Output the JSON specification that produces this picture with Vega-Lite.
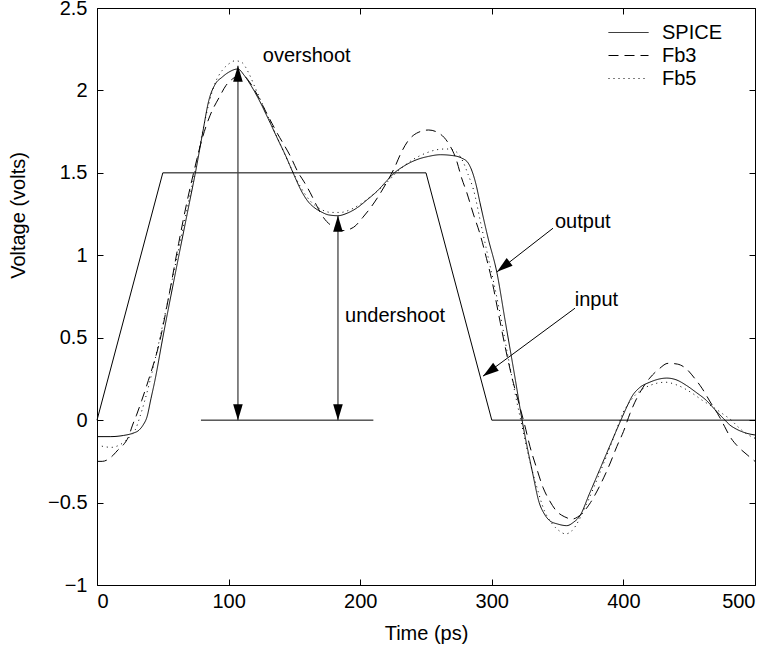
{
  "$schema": "https://vega.github.io/schema/vega-lite/v6.json",
  "width": 658,
  "height": 577,
  "autosize": "none",
  "padding": {"left": 97, "top": 8, "right": 18, "bottom": 67},
  "background": "white",
  "config": {
    "view": {"stroke": "black", "strokeWidth": 1},
    "font": "Liberation Sans",
    "axis": {"grid": false, "domain": false, "tickColor": "black", "labelColor": "black", "labelFontSize": 20, "titleFontSize": 20, "titleFontWeight": "normal", "titleColor": "black", "labelFont": "Liberation Sans", "titleFont": "Liberation Sans"},
    "legend": {"labelFont": "Liberation Sans", "labelFontSize": 20, "labelColor": "black"}
  },
  "datasets": {
    "curves": [
      {"t":0,"v":-0.10,"s":"SPICE"},{"t":10,"v":-0.10,"s":"SPICE"},{"t":20,"v":-0.093,"s":"SPICE"},{"t":27,"v":-0.08,"s":"SPICE"},{"t":32,"v":-0.06,"s":"SPICE"},{"t":35,"v":-0.03,"s":"SPICE"},{"t":38,"v":0.02,"s":"SPICE"},{"t":41,"v":0.13,"s":"SPICE"},{"t":44,"v":0.24,"s":"SPICE"},{"t":50,"v":0.50,"s":"SPICE"},{"t":60,"v":0.91,"s":"SPICE"},{"t":70,"v":1.31,"s":"SPICE"},{"t":75,"v":1.51,"s":"SPICE"},{"t":80,"v":1.73,"s":"SPICE"},{"t":85,"v":1.94,"s":"SPICE"},{"t":90,"v":2.04,"s":"SPICE"},{"t":95,"v":2.08,"s":"SPICE"},{"t":100,"v":2.11,"s":"SPICE"},{"t":107,"v":2.13,"s":"SPICE"},{"t":112,"v":2.09,"s":"SPICE"},{"t":117,"v":2.03,"s":"SPICE"},{"t":122,"v":1.96,"s":"SPICE"},{"t":130,"v":1.83,"s":"SPICE"},{"t":137,"v":1.71,"s":"SPICE"},{"t":143,"v":1.61,"s":"SPICE"},{"t":149,"v":1.50,"s":"SPICE"},{"t":156,"v":1.38,"s":"SPICE"},{"t":160,"v":1.33,"s":"SPICE"},{"t":165,"v":1.29,"s":"SPICE"},{"t":170,"v":1.265,"s":"SPICE"},{"t":176,"v":1.245,"s":"SPICE"},{"t":183,"v":1.24,"s":"SPICE"},{"t":190,"v":1.255,"s":"SPICE"},{"t":198,"v":1.29,"s":"SPICE"},{"t":205,"v":1.335,"s":"SPICE"},{"t":213,"v":1.39,"s":"SPICE"},{"t":220,"v":1.45,"s":"SPICE"},{"t":226,"v":1.50,"s":"SPICE"},{"t":233,"v":1.54,"s":"SPICE"},{"t":243,"v":1.58,"s":"SPICE"},{"t":252,"v":1.60,"s":"SPICE"},{"t":261,"v":1.61,"s":"SPICE"},{"t":270,"v":1.605,"s":"SPICE"},{"t":277,"v":1.59,"s":"SPICE"},{"t":282,"v":1.56,"s":"SPICE"},{"t":285,"v":1.51,"s":"SPICE"},{"t":288,"v":1.43,"s":"SPICE"},{"t":291,"v":1.32,"s":"SPICE"},{"t":297,"v":1.11,"s":"SPICE"},{"t":304,"v":0.89,"s":"SPICE"},{"t":310,"v":0.61,"s":"SPICE"},{"t":318,"v":0.24,"s":"SPICE"},{"t":323,"v":0.0,"s":"SPICE"},{"t":331,"v":-0.32,"s":"SPICE"},{"t":336,"v":-0.50,"s":"SPICE"},{"t":340,"v":-0.57,"s":"SPICE"},{"t":344,"v":-0.61,"s":"SPICE"},{"t":350,"v":-0.63,"s":"SPICE"},{"t":357,"v":-0.64,"s":"SPICE"},{"t":362,"v":-0.62,"s":"SPICE"},{"t":367,"v":-0.58,"s":"SPICE"},{"t":374,"v":-0.45,"s":"SPICE"},{"t":382,"v":-0.30,"s":"SPICE"},{"t":390,"v":-0.15,"s":"SPICE"},{"t":397,"v":-0.02,"s":"SPICE"},{"t":402,"v":0.07,"s":"SPICE"},{"t":407,"v":0.15,"s":"SPICE"},{"t":412,"v":0.195,"s":"SPICE"},{"t":420,"v":0.23,"s":"SPICE"},{"t":433,"v":0.255,"s":"SPICE"},{"t":440,"v":0.245,"s":"SPICE"},{"t":448,"v":0.21,"s":"SPICE"},{"t":455,"v":0.17,"s":"SPICE"},{"t":463,"v":0.12,"s":"SPICE"},{"t":470,"v":0.06,"s":"SPICE"},{"t":476,"v":0.01,"s":"SPICE"},{"t":481,"v":-0.03,"s":"SPICE"},{"t":486,"v":-0.055,"s":"SPICE"},{"t":493,"v":-0.078,"s":"SPICE"},{"t":500,"v":-0.09,"s":"SPICE"},
      {"t":0,"v":-0.25,"s":"Fb3"},{"t":4,"v":-0.25,"s":"Fb3"},{"t":8,"v":-0.24,"s":"Fb3"},{"t":12,"v":-0.215,"s":"Fb3"},{"t":16,"v":-0.18,"s":"Fb3"},{"t":20,"v":-0.15,"s":"Fb3"},{"t":24,"v":-0.10,"s":"Fb3"},{"t":27,"v":-0.03,"s":"Fb3"},{"t":30,"v":0.03,"s":"Fb3"},{"t":34,"v":0.12,"s":"Fb3"},{"t":39,"v":0.24,"s":"Fb3"},{"t":48,"v":0.49,"s":"Fb3"},{"t":55,"v":0.77,"s":"Fb3"},{"t":62,"v":1.07,"s":"Fb3"},{"t":68,"v":1.31,"s":"Fb3"},{"t":74,"v":1.52,"s":"Fb3"},{"t":80,"v":1.71,"s":"Fb3"},{"t":86,"v":1.85,"s":"Fb3"},{"t":93,"v":1.96,"s":"Fb3"},{"t":98,"v":2.03,"s":"Fb3"},{"t":103,"v":2.07,"s":"Fb3"},{"t":108,"v":2.09,"s":"Fb3"},{"t":112,"v":2.085,"s":"Fb3"},{"t":116,"v":2.05,"s":"Fb3"},{"t":122,"v":1.97,"s":"Fb3"},{"t":129,"v":1.86,"s":"Fb3"},{"t":137,"v":1.74,"s":"Fb3"},{"t":147,"v":1.60,"s":"Fb3"},{"t":153,"v":1.50,"s":"Fb3"},{"t":157,"v":1.45,"s":"Fb3"},{"t":162,"v":1.38,"s":"Fb3"},{"t":167,"v":1.30,"s":"Fb3"},{"t":172,"v":1.23,"s":"Fb3"},{"t":180,"v":1.17,"s":"Fb3"},{"t":187,"v":1.15,"s":"Fb3"},{"t":195,"v":1.17,"s":"Fb3"},{"t":202,"v":1.23,"s":"Fb3"},{"t":208,"v":1.29,"s":"Fb3"},{"t":214,"v":1.36,"s":"Fb3"},{"t":220,"v":1.44,"s":"Fb3"},{"t":226,"v":1.53,"s":"Fb3"},{"t":231,"v":1.62,"s":"Fb3"},{"t":236,"v":1.69,"s":"Fb3"},{"t":244,"v":1.745,"s":"Fb3"},{"t":252,"v":1.76,"s":"Fb3"},{"t":260,"v":1.74,"s":"Fb3"},{"t":267,"v":1.68,"s":"Fb3"},{"t":273,"v":1.58,"s":"Fb3"},{"t":277,"v":1.47,"s":"Fb3"},{"t":281,"v":1.38,"s":"Fb3"},{"t":286,"v":1.25,"s":"Fb3"},{"t":291,"v":1.13,"s":"Fb3"},{"t":296,"v":0.98,"s":"Fb3"},{"t":300,"v":0.85,"s":"Fb3"},{"t":305,"v":0.65,"s":"Fb3"},{"t":310,"v":0.45,"s":"Fb3"},{"t":315,"v":0.27,"s":"Fb3"},{"t":321,"v":0.09,"s":"Fb3"},{"t":325,"v":-0.03,"s":"Fb3"},{"t":329,"v":-0.16,"s":"Fb3"},{"t":334,"v":-0.29,"s":"Fb3"},{"t":339,"v":-0.41,"s":"Fb3"},{"t":344,"v":-0.49,"s":"Fb3"},{"t":349,"v":-0.55,"s":"Fb3"},{"t":355,"v":-0.585,"s":"Fb3"},{"t":361,"v":-0.60,"s":"Fb3"},{"t":368,"v":-0.57,"s":"Fb3"},{"t":375,"v":-0.50,"s":"Fb3"},{"t":380,"v":-0.43,"s":"Fb3"},{"t":385,"v":-0.35,"s":"Fb3"},{"t":390,"v":-0.26,"s":"Fb3"},{"t":395,"v":-0.16,"s":"Fb3"},{"t":400,"v":-0.07,"s":"Fb3"},{"t":405,"v":0.04,"s":"Fb3"},{"t":410,"v":0.13,"s":"Fb3"},{"t":415,"v":0.20,"s":"Fb3"},{"t":420,"v":0.255,"s":"Fb3"},{"t":427,"v":0.31,"s":"Fb3"},{"t":434,"v":0.345,"s":"Fb3"},{"t":441,"v":0.34,"s":"Fb3"},{"t":448,"v":0.31,"s":"Fb3"},{"t":454,"v":0.255,"s":"Fb3"},{"t":460,"v":0.19,"s":"Fb3"},{"t":466,"v":0.11,"s":"Fb3"},{"t":473,"v":0.02,"s":"Fb3"},{"t":477,"v":-0.04,"s":"Fb3"},{"t":481,"v":-0.10,"s":"Fb3"},{"t":487,"v":-0.16,"s":"Fb3"},{"t":494,"v":-0.21,"s":"Fb3"},{"t":500,"v":-0.25,"s":"Fb3"},
      {"t":0,"v":-0.15,"s":"Fb5"},{"t":5,"v":-0.16,"s":"Fb5"},{"t":11,"v":-0.165,"s":"Fb5"},{"t":16,"v":-0.155,"s":"Fb5"},{"t":21,"v":-0.13,"s":"Fb5"},{"t":25,"v":-0.10,"s":"Fb5"},{"t":29,"v":-0.06,"s":"Fb5"},{"t":33,"v":0.03,"s":"Fb5"},{"t":36,"v":0.11,"s":"Fb5"},{"t":40,"v":0.23,"s":"Fb5"},{"t":45,"v":0.40,"s":"Fb5"},{"t":50,"v":0.58,"s":"Fb5"},{"t":60,"v":0.96,"s":"Fb5"},{"t":70,"v":1.34,"s":"Fb5"},{"t":75,"v":1.53,"s":"Fb5"},{"t":80,"v":1.74,"s":"Fb5"},{"t":85,"v":1.92,"s":"Fb5"},{"t":90,"v":2.05,"s":"Fb5"},{"t":95,"v":2.12,"s":"Fb5"},{"t":100,"v":2.16,"s":"Fb5"},{"t":105,"v":2.18,"s":"Fb5"},{"t":110,"v":2.17,"s":"Fb5"},{"t":115,"v":2.11,"s":"Fb5"},{"t":120,"v":2.02,"s":"Fb5"},{"t":130,"v":1.84,"s":"Fb5"},{"t":140,"v":1.66,"s":"Fb5"},{"t":148,"v":1.52,"s":"Fb5"},{"t":155,"v":1.41,"s":"Fb5"},{"t":162,"v":1.33,"s":"Fb5"},{"t":170,"v":1.28,"s":"Fb5"},{"t":178,"v":1.26,"s":"Fb5"},{"t":185,"v":1.26,"s":"Fb5"},{"t":192,"v":1.275,"s":"Fb5"},{"t":200,"v":1.31,"s":"Fb5"},{"t":210,"v":1.37,"s":"Fb5"},{"t":220,"v":1.44,"s":"Fb5"},{"t":230,"v":1.52,"s":"Fb5"},{"t":240,"v":1.58,"s":"Fb5"},{"t":250,"v":1.62,"s":"Fb5"},{"t":258,"v":1.64,"s":"Fb5"},{"t":265,"v":1.645,"s":"Fb5"},{"t":270,"v":1.64,"s":"Fb5"},{"t":274,"v":1.62,"s":"Fb5"},{"t":278,"v":1.57,"s":"Fb5"},{"t":282,"v":1.49,"s":"Fb5"},{"t":286,"v":1.40,"s":"Fb5"},{"t":292,"v":1.18,"s":"Fb5"},{"t":298,"v":0.96,"s":"Fb5"},{"t":305,"v":0.70,"s":"Fb5"},{"t":312,"v":0.40,"s":"Fb5"},{"t":318,"v":0.15,"s":"Fb5"},{"t":322,"v":0.0,"s":"Fb5"},{"t":328,"v":-0.22,"s":"Fb5"},{"t":334,"v":-0.40,"s":"Fb5"},{"t":340,"v":-0.55,"s":"Fb5"},{"t":346,"v":-0.63,"s":"Fb5"},{"t":351,"v":-0.67,"s":"Fb5"},{"t":356,"v":-0.69,"s":"Fb5"},{"t":361,"v":-0.67,"s":"Fb5"},{"t":366,"v":-0.61,"s":"Fb5"},{"t":372,"v":-0.51,"s":"Fb5"},{"t":380,"v":-0.36,"s":"Fb5"},{"t":390,"v":-0.16,"s":"Fb5"},{"t":396,"v":-0.03,"s":"Fb5"},{"t":400,"v":0.05,"s":"Fb5"},{"t":403,"v":0.09,"s":"Fb5"},{"t":410,"v":0.16,"s":"Fb5"},{"t":420,"v":0.21,"s":"Fb5"},{"t":432,"v":0.23,"s":"Fb5"},{"t":440,"v":0.215,"s":"Fb5"},{"t":452,"v":0.165,"s":"Fb5"},{"t":460,"v":0.12,"s":"Fb5"},{"t":468,"v":0.08,"s":"Fb5"},{"t":476,"v":0.035,"s":"Fb5"},{"t":482,"v":0.0,"s":"Fb5"},{"t":487,"v":-0.04,"s":"Fb5"},{"t":493,"v":-0.08,"s":"Fb5"},{"t":500,"v":-0.11,"s":"Fb5"}
    ],
    "input": [{"t":0,"v":0},{"t":50,"v":1.5},{"t":250,"v":1.5},{"t":300,"v":0},{"t":500,"v":0}],
    "baseline": [{"t":79,"v":0,"t2":210,"v2":0}],
    "vert": [{"t":107.1,"v":0,"t2":107.1,"v2":2.15},{"t":183.1,"v":0,"t2":183.1,"v2":1.24}],
    "slant": [{"t":346.5,"v":1.164,"t2":304,"v2":0.9},{"t":363.2,"v":0.679,"t2":293.3,"v2":0.267}],
    "upHeads": [{"t":107.1,"v":2.15},{"t":183.1,"v":1.24}],
    "downHeads": [{"t":107.1,"v":0},{"t":183.1,"v":0}],
    "outHead": [{"t":304,"v":0.9}],
    "inHead": [{"t":293.3,"v":0.267}],
    "labels": [{"t":126,"v":2.21,"txt":"overshoot"},{"t":188.5,"v":0.63,"txt":"undershoot"},{"t":348,"v":1.2,"txt":"output"},{"t":363,"v":0.73,"txt":"input"}]
  },
  "resolve": {"axis": {"x": "independent", "y": "independent"}},
  "layer": [
    {
      "data": {"name": "curves"},
      "mark": {"type": "line", "interpolate": "monotone", "color": "black", "strokeWidth": 1},
      "encoding": {
        "x": {"field": "t", "type": "quantitative", "scale": {"domain": [0, 500], "nice": false, "zero": false},
              "axis": {"orient": "bottom", "values": [0,100,200,300,400,500], "tickSize": -6, "labelPadding": 12, "title": "Time (ps)", "titleY": 48, "titleBaseline": "middle"}},
        "y": {"field": "v", "type": "quantitative", "scale": {"domain": [-1, 2.5], "nice": false, "zero": false},
              "axis": {"orient": "left", "values": [-1,-0.5,0,0.5,1,1.5,2,2.5], "format": "~g", "tickSize": -6, "labelPadding": 16, "title": "Voltage (volts)", "titleX": -79, "titleY": 207, "titleAngle": -90, "titleAlign": "center", "titleBaseline": "middle"}},
        "strokeDash": {"field": "s", "type": "nominal",
          "scale": {"domain": ["SPICE", "Fb3", "Fb5"], "range": [[1, 0], [10, 6], [1, 4]]},
          "legend": {"orient": "none", "legendX": 521, "legendY": 14, "title": null, "symbolType": "M-2,0L2,0", "symbolSize": 400, "symbolStrokeColor": "black", "symbolStrokeWidth": 1, "labelOffset": 23, "padding": 0, "rowPadding": 2}}
      }
    },
    {
      "data": {"name": "input"},
      "mark": {"type": "line", "color": "black", "strokeWidth": 1},
      "encoding": {
        "x": {"field": "t", "type": "quantitative", "axis": {"orient": "top", "values": [0,100,200,300,400,500], "tickSize": -6, "labels": false, "title": null}},
        "y": {"field": "v", "type": "quantitative", "axis": {"orient": "right", "values": [-1,-0.5,0,0.5,1,1.5,2,2.5], "tickSize": -6, "labels": false, "title": null}}
      }
    },
    {
      "data": {"name": "baseline"},
      "mark": {"type": "rule", "color": "black", "strokeWidth": 1},
      "encoding": {
        "x": {"field": "t", "type": "quantitative", "axis": null}, "x2": {"field": "t2"},
        "y": {"field": "v", "type": "quantitative", "axis": null}, "y2": {"field": "v2"}
      }
    },
    {
      "data": {"name": "vert"},
      "mark": {"type": "rule", "color": "#444444", "strokeWidth": 1.3},
      "encoding": {
        "x": {"field": "t", "type": "quantitative", "axis": null}, "x2": {"field": "t2"},
        "y": {"field": "v", "type": "quantitative", "axis": null}, "y2": {"field": "v2"}
      }
    },
    {
      "data": {"name": "slant"},
      "mark": {"type": "rule", "color": "black", "strokeWidth": 1},
      "encoding": {
        "x": {"field": "t", "type": "quantitative", "axis": null}, "x2": {"field": "t2"},
        "y": {"field": "v", "type": "quantitative", "axis": null}, "y2": {"field": "v2"}
      }
    },
    {
      "data": {"name": "upHeads"},
      "mark": {"type": "point", "shape": "M0,0L0.6,2L-0.6,2Z", "filled": true, "color": "black", "opacity": 1, "size": 256, "strokeWidth": 0},
      "encoding": {
        "x": {"field": "t", "type": "quantitative", "axis": null},
        "y": {"field": "v", "type": "quantitative", "axis": null}
      }
    },
    {
      "data": {"name": "downHeads"},
      "mark": {"type": "point", "shape": "M0,0L0.6,-2L-0.6,-2Z", "filled": true, "color": "black", "opacity": 1, "size": 256, "strokeWidth": 0},
      "encoding": {
        "x": {"field": "t", "type": "quantitative", "axis": null},
        "y": {"field": "v", "type": "quantitative", "axis": null}
      }
    },
    {
      "data": {"name": "outHead"},
      "mark": {"type": "point", "shape": "M0,0L0.6,2L-0.6,2Z", "filled": true, "color": "black", "opacity": 1, "size": 256, "strokeWidth": 0, "angle": 231.8},
      "encoding": {
        "x": {"field": "t", "type": "quantitative", "axis": null},
        "y": {"field": "v", "type": "quantitative", "axis": null}
      }
    },
    {
      "data": {"name": "inHead"},
      "mark": {"type": "point", "shape": "M0,0L0.6,2L-0.6,2Z", "filled": true, "color": "black", "opacity": 1, "size": 256, "strokeWidth": 0, "angle": 234.1},
      "encoding": {
        "x": {"field": "t", "type": "quantitative", "axis": null},
        "y": {"field": "v", "type": "quantitative", "axis": null}
      }
    },
    {
      "data": {"name": "labels"},
      "mark": {"type": "text", "align": "left", "baseline": "middle", "fontSize": 20, "font": "Liberation Sans", "color": "black"},
      "encoding": {
        "x": {"field": "t", "type": "quantitative", "axis": null},
        "y": {"field": "v", "type": "quantitative", "axis": null},
        "text": {"field": "txt"}
      }
    }
  ]
}
